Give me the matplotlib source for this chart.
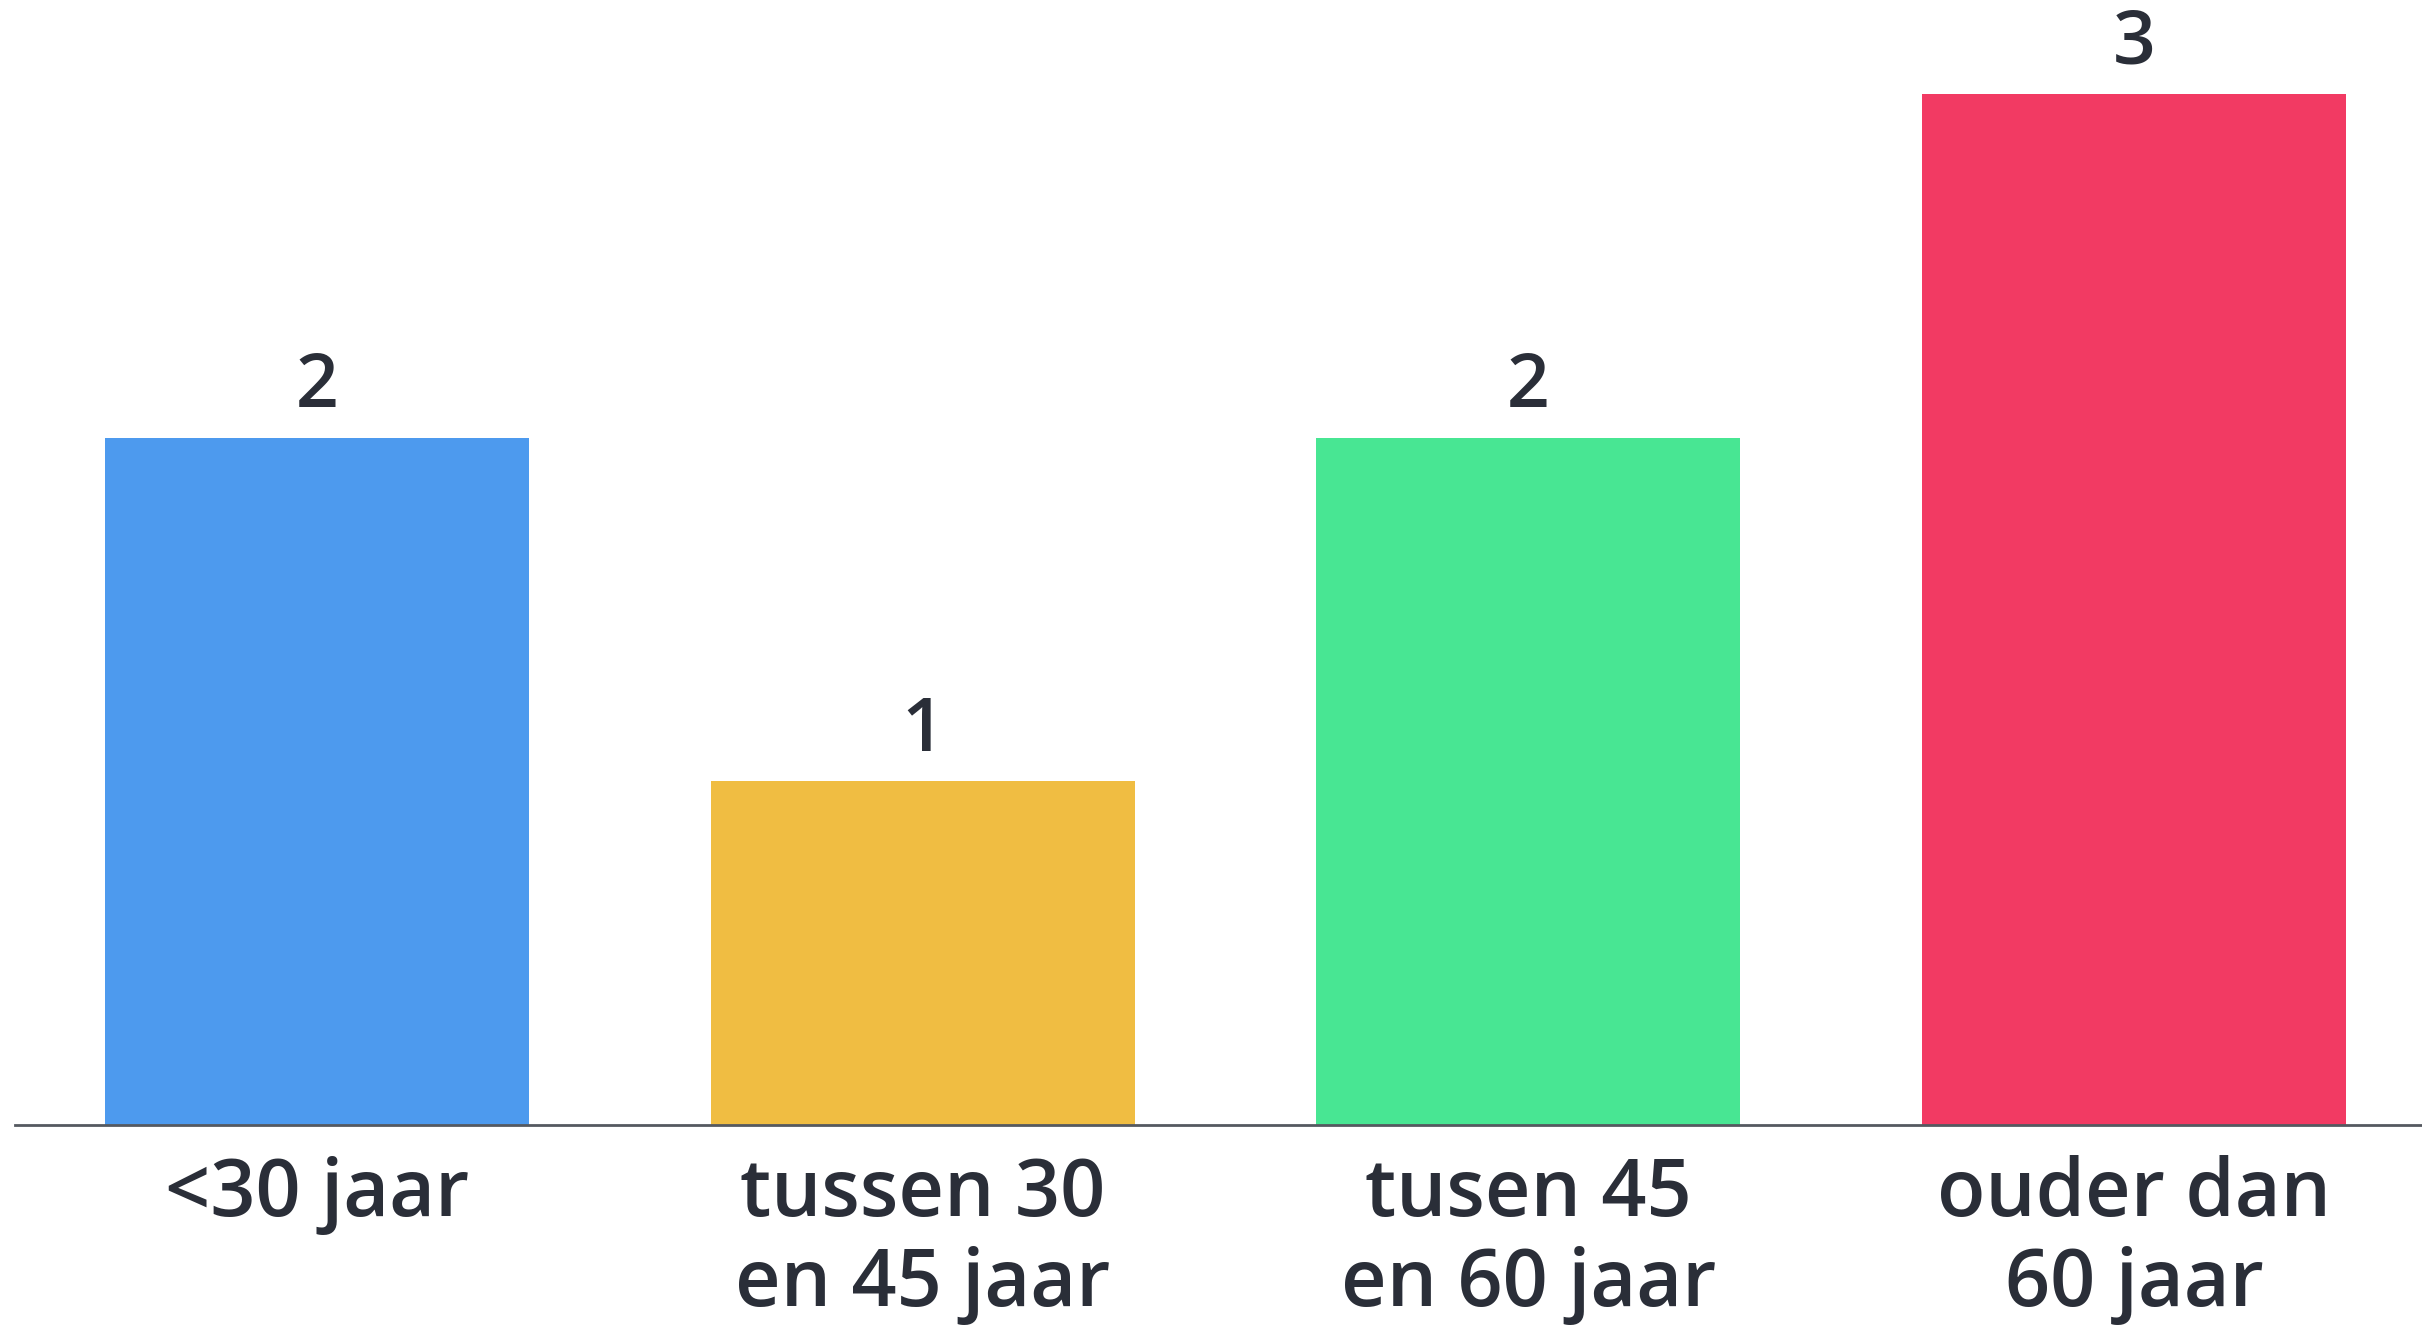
import matplotlib
matplotlib.use("Agg")
import matplotlib.pyplot as plt

categories = ["<30 jaar", "tussen 30\nen 45 jaar", "tusen 45\nen 60 jaar", "ouder dan\n60 jaar"]
values = [2, 1, 2, 3]
colors = ["#4D9AEE", "#F0BD42", "#48E693", "#F23A63"]
text_color = "#2A2E38"

fig = plt.figure(figsize=(24.22, 13.34), dpi=100)
ax = fig.add_axes([15 / 2422, 0.157, 1 - 15 / 2422, 0.843])
x = list(range(len(categories)))
bars = ax.bar(x, values, width=0.7, color=colors, zorder=2)
ax.set_xlim(-0.498, 3.475)
ax.set_ylim(0, 3.274)

for xi, v in zip(x, values):
    ax.annotate(str(v), xy=(xi, v), xytext=(0, 9), textcoords="offset points",
                ha="center", va="bottom", fontsize=54, fontweight="semibold",
                color=text_color, family="Open Sans")

ax.set_xticks(x)
ax.set_xticklabels(categories, fontsize=57, color=text_color, family="Open Sans",
                   fontweight="semibold", linespacing=1.17)
ax.tick_params(axis="x", length=0, pad=22)
ax.set_yticks([])
for s in ["top", "right", "left"]:
    ax.spines[s].set_visible(False)
ax.spines["bottom"].set_color("#555960")
ax.spines["bottom"].set_linewidth(2)

fig.savefig("out.png", dpi=100, facecolor="white")
